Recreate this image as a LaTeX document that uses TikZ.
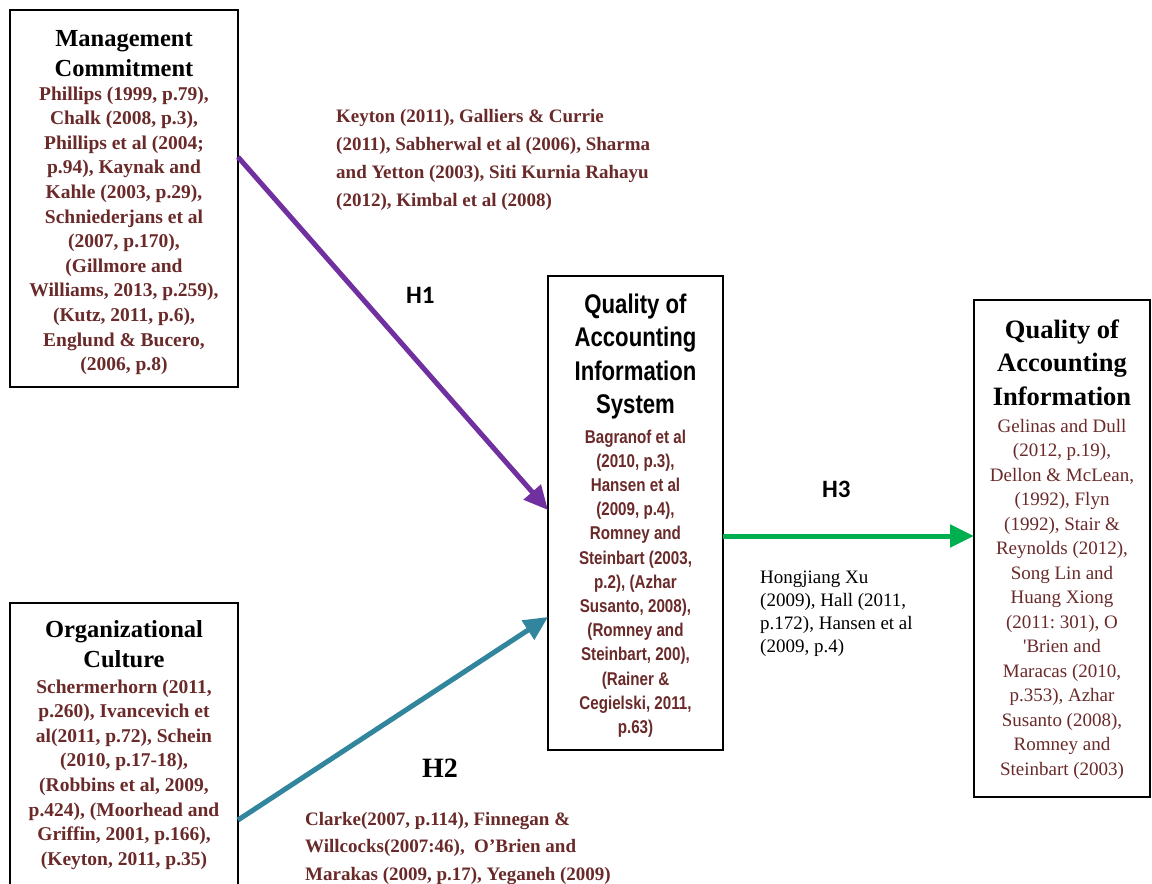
\documentclass[tikz,border=0pt]{standalone}
\usepackage{fontspec}
\setmainfont{Liberation Serif}
\newfontfamily\nsans[FakeStretch=0.82]{Liberation Sans}
\newfontfamily\calib{Carlito}
\usetikzlibrary{arrows.meta}
\definecolor{citred}{HTML}{6A2A2A}
\definecolor{hpurple}{HTML}{7030A0}
\definecolor{hteal}{HTML}{31859C}
\definecolor{hgreen}{HTML}{00B050}
\frenchspacing
\begin{document}
\begin{tikzpicture}[x=1pt,y=-1pt,
  box/.style={draw=black, line width=2pt, anchor=north west, inner sep=0pt, outer sep=0pt},
  ctxt/.style={anchor=base, inner sep=0pt, align=flush center, text width=#1},
  ltxt/.style={anchor=base west, inner sep=0pt, align=flush left, text width=#1},
  serifttl/.style={font=\bfseries\fontsize{24.5}{30}\selectfont},
  serifcit/.style={text=citred, font=\bfseries\fontsize{19.5}{24.6}\selectfont},
  hyp/.style={line width=5pt, -{Triangle[length=24pt,width=22pt]}},
  hlab/.style={anchor=base west, inner sep=0pt}]
\clip (0,0) rectangle (1152,884);
\fill[white] (0,0) rectangle (1152,884);

% boxes
\node[box, minimum width=228pt, minimum height=377pt] (mc) at (10,10) {};
\node[box, minimum width=228pt, minimum height=320pt] (oc) at (10,603) {};
\node[box, minimum width=175pt, minimum height=474pt] (qais) at (548,276) {};
\node[box, minimum width=176pt, minimum height=497pt] (qai) at (974,300) {};

% Management Commitment
\node[ctxt=220pt, serifttl] (mct) at (124,46) {Management\\Commitment};
\node[ctxt=220pt, serifcit] (mcc) at (124,100) {Phillips (1999, p.79),\\Chalk (2008, p.3),\\Phillips et al (2004;\\p.94), Kaynak and\\Kahle (2003, p.29),\\Schniederjans et al\\(2007, p.170),\\(Gillmore and\\Williams, 2013, p.259),\\(Kutz, 2011, p.6),\\Englund \& Bucero,\\(2006, p.8)};

% Organizational Culture
\node[ctxt=220pt, serifttl] (oct) at (124,637) {Organizational\\Culture};
\node[ctxt=220pt, serifcit] (occ) at (124,693) {Schermerhorn (2011,\\p.260), Ivancevich et\\al(2011, p.72), Schein\\(2010, p.17-18),\\(Robbins et al, 2009,\\p.424), (Moorhead and\\Griffin, 2001, p.166),\\(Keyton, 2011, p.35)};

% Quality of AIS
\node[ctxt=170pt, font=\nsans\bfseries\fontsize{27}{33.5}\selectfont] (qaist) at (635.5,313) {Quality of\\Accounting\\Information\\System};
\node[ctxt=170pt, text=citred, font=\nsans\bfseries\fontsize{18.5}{24.2}\selectfont] (qaisc) at (635.5,443) {Bagranof et al\\(2010, p.3),\\Hansen et al\\(2009, p.4),\\Romney and\\Steinbart (2003,\\p.2), (Azhar\\Susanto, 2008),\\(Romney and\\Steinbart, 200),\\(Rainer \&\\Cegielski, 2011,\\p.63)};

% Quality of AI
\node[ctxt=172pt, font=\bfseries\fontsize{26.5}{33.5}\selectfont] (qait) at (1062,338) {Quality of\\Accounting\\Information};
\node[ctxt=172pt, text=citred, font=\fontsize{19}{24.5}\selectfont] (qaic) at (1062,432) {Gelinas and Dull\\(2012, p.19),\\Dellon \& McLean,\\(1992), Flyn\\(1992), Stair \&\\Reynolds (2012),\\Song Lin and\\Huang Xiong\\(2011: 301), O\\\textquotesingle Brien and\\Maracas (2010,\\p.353), Azhar\\Susanto (2008),\\Romney and\\Steinbart (2003)};

% connectors
\draw[hyp, hpurple] (mc.north east |- 0,157) -- (qais.north west |- 0,510);
\draw[hyp, hteal] (oc.north east |- 0,820) -- (qais.north west |- 0,617);
\draw[hyp, hgreen] (qais.north east |- 0,536) -- (qai.north west |- 0,536);

% hypothesis labels
\node[hlab, font=\calib\bfseries\fontsize{25}{30}\selectfont] (h1) at (406,303) {H1};
\node[hlab, font=\bfseries\fontsize{28}{32}\selectfont] (h2) at (422,777) {H2};
\node[hlab, font=\calib\bfseries\fontsize{25}{30}\selectfont] (h3) at (822,497) {H3};

% citation texts along connectors
\node[ltxt=340pt, text=citred, font=\bfseries\fontsize{19}{28}\selectfont] (h1c) at (336,122) {Keyton (2011), Galliers \& Currie\\(2011), Sabherwal et al (2006), Sharma\\and Yetton (2003), Siti Kurnia Rahayu\\(2012), Kimbal et al (2008)};
\node[ltxt=340pt, text=citred, font=\bfseries\fontsize{19}{27.5}\selectfont] (h2c) at (305,825) {Clarke(2007, p.114), Finnegan \&\\Willcocks(2007:46),\ \ O’Brien and\\Marakas (2009, p.17), Yeganeh (2009)};
\node[ltxt=200pt, font=\fontsize{19}{23}\selectfont] (h3c) at (760,583) {Hongjiang Xu\\(2009), Hall (2011,\\p.172), Hansen et al\\(2009, p.4)};
\end{tikzpicture}
\end{document}
